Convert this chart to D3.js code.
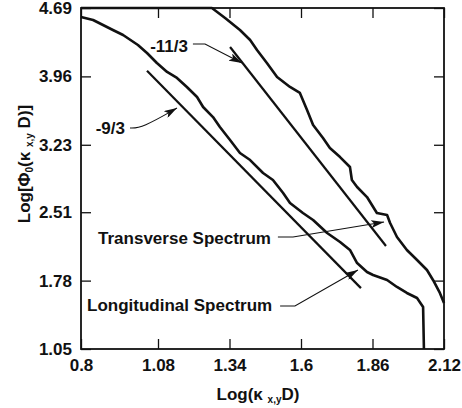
<!DOCTYPE html>
<html>
<head>
<meta charset="utf-8">
<script src="https://cdn.jsdelivr.net/npm/d3@7"></script>
<style>
  body { margin: 0; background: #fff; }
  text { font-family: "Liberation Sans", Arial, Helvetica, sans-serif; font-weight: bold; fill: #111; }
</style>
</head>
<body>
<div id="chart"></div>
<script>
// tick values
var xTicks = [0.8, 1.08, 1.34, 1.6, 1.86, 2.12];
var yTicks = [1.05, 1.78, 2.51, 3.23, 3.96, 4.69];

// transverse spectrum [log k, log phi]
var transverse = [
  [0.8, 4.69], [1.276, 4.69], [1.324, 4.583], [1.378, 4.455], [1.415, 4.348],
  [1.440, 4.242], [1.476, 4.103], [1.513, 3.953], [1.560, 3.847], [1.596, 3.783],
  [1.622, 3.601], [1.644, 3.441], [1.680, 3.302], [1.705, 3.195], [1.742, 3.099],
  [1.778, 2.993], [1.785, 2.854], [1.804, 2.779], [1.840, 2.672], [1.876, 2.502],
  [1.913, 2.480], [1.924, 2.395], [1.949, 2.245], [1.985, 2.107], [2.022, 2.000],
  [2.058, 1.893], [2.080, 1.787], [2.105, 1.648], [2.12, 1.541]
];

// longitudinal spectrum [log k, log phi]
var longitudinal = [
  [0.8, 4.594], [0.844, 4.562], [0.916, 4.455], [0.953, 4.402], [1.007, 4.295],
  [1.040, 4.210], [1.076, 4.103], [1.113, 4.007], [1.149, 3.943], [1.185, 3.847],
  [1.222, 3.740], [1.244, 3.633], [1.280, 3.526], [1.305, 3.420], [1.342, 3.281],
  [1.378, 3.142], [1.415, 3.067], [1.462, 2.929], [1.498, 2.854], [1.535, 2.715],
  [1.560, 2.608], [1.607, 2.502], [1.644, 2.427], [1.695, 2.288], [1.742, 2.192],
  [1.778, 2.107], [1.804, 1.968], [1.840, 1.872], [1.862, 1.840], [1.913, 1.787],
  [1.949, 1.712], [1.985, 1.648], [2.022, 1.594], [2.044, 1.498], [2.047, 1.05]
];

// reference slopes, end points
var slope9 = [[1.04, 4.02], [1.818, 1.70]];
var slope11 = [[1.342, 4.274], [1.909, 2.149]];

// labels with their leader lines (data units)
var labels = [
  { text: "-9/3", anchor: "end", at: [0.960, 3.409], leader: [[0.978, 3.409], [1.022, 3.409], [1.149, 3.622]], curved: true },
  { text: "-11/3", anchor: "end", at: [1.189, 4.290], leader: [[1.207, 4.306], [1.251, 4.306], [1.385, 4.103]] },
  { text: "Transverse Spectrum", anchor: "start", at: [0.862, 2.235], leader: [[1.516, 2.245], [1.571, 2.245], [1.902, 2.406]] },
  { text: "Longitudinal Spectrum", anchor: "start", at: [0.822, 1.520], leader: [[1.524, 1.509], [1.578, 1.509], [1.807, 1.893]] }
];

var svgWidth = 462;
var svgHeight = 408;
var margin = { top: 8, right: 18, bottom: 59, left: 81 };
var width = svgWidth - margin.left - margin.right;
var height = svgHeight - margin.top - margin.bottom;

var svg = d3.select("#chart")
  .append("svg")
  .attr("width", svgWidth)
  .attr("height", svgHeight);

svg.append("defs").append("marker")
  .attr("id", "arrow")
  .attr("markerUnits", "userSpaceOnUse")
  .attr("markerWidth", 14)
  .attr("markerHeight", 8)
  .attr("refX", 13)
  .attr("refY", 4)
  .attr("orient", "auto")
  .append("path")
  .attr("d", "M0,0 L13,4 L0,8 L3,4 Z")
  .attr("fill", "#111");

var chartGroup = svg.append("g")
  .attr("transform", `translate(${margin.left}, ${margin.top})`);

var xScale = d3.scaleLinear().domain([0.8, 2.12]).range([0, width]);
var yScale = d3.scaleLinear().domain([1.05, 4.69]).range([height, 0]);

// axes, ticks pointing inward on all four sides
var bottomAxis = d3.axisBottom(xScale).tickValues(xTicks).tickFormat(d3.format("")).tickSizeInner(-10).tickSizeOuter(0).tickPadding(10);
var topAxis = d3.axisTop(xScale).tickValues(xTicks).tickFormat("").tickSizeInner(-10).tickSizeOuter(0);
var leftAxis = d3.axisLeft(yScale).tickValues(yTicks).tickFormat(d3.format(".2f")).tickSizeInner(-10).tickSizeOuter(0).tickPadding(9);
var rightAxis = d3.axisRight(yScale).tickValues(yTicks).tickFormat("").tickSizeInner(-10).tickSizeOuter(0);

function styleAxis(g) {
  g.select(".domain").remove();
  g.selectAll(".tick line").attr("stroke", "#111").attr("stroke-width", 1.3);
  g.selectAll(".tick text").attr("font-size", "17px").attr("fill", "#111")
    .attr("font-family", "'Liberation Sans', Arial, sans-serif").attr("font-weight", "bold");
}

chartGroup.append("g").attr("transform", `translate(0, ${height})`).call(bottomAxis).call(styleAxis);
chartGroup.append("g").call(topAxis).call(styleAxis);
chartGroup.append("g").call(leftAxis).call(styleAxis);
chartGroup.append("g").attr("transform", `translate(${width}, 0)`).call(rightAxis).call(styleAxis);

chartGroup.append("rect")
  .attr("width", width)
  .attr("height", height)
  .attr("fill", "none")
  .attr("stroke", "#111")
  .attr("stroke-width", 1.8);

var line = d3.line()
  .x(d => xScale(d[0]))
  .y(d => yScale(d[1]));

// spectra
[transverse, longitudinal].forEach(function(series) {
  chartGroup.append("path")
    .datum(series)
    .attr("d", line)
    .attr("fill", "none")
    .attr("stroke", "#111")
    .attr("stroke-width", 2.6)
    .attr("stroke-linejoin", "round");
});

// slope lines
[slope9, slope11].forEach(function(seg) {
  chartGroup.append("path")
    .datum(seg)
    .attr("d", line)
    .attr("fill", "none")
    .attr("stroke", "#111")
    .attr("stroke-width", 2.2);
});

// labels and leaders
labels.forEach(function(l) {
  chartGroup.append("text")
    .attr("x", xScale(l.at[0]))
    .attr("y", yScale(l.at[1]))
    .attr("dy", "0.36em")
    .attr("text-anchor", l.anchor)
    .attr("font-size", "17px")
    .text(l.text);

  chartGroup.append("path")
    .datum(l.leader)
    .attr("d", l.curved ? line.curve(d3.curveBasis) : line.curve(d3.curveLinear))
    .attr("fill", "none")
    .attr("stroke", "#111")
    .attr("stroke-width", 1.1)
    .attr("marker-end", "url(#arrow)");
  line.curve(d3.curveLinear);
});

// axis titles
var xTitle = svg.append("text")
  .attr("x", 258)
  .attr("y", 400)
  .attr("text-anchor", "middle")
  .attr("font-size", "17px");
xTitle.append("tspan").text("Log(\u03ba ");
xTitle.append("tspan").attr("font-size", "10px").attr("dy", 3).text("x,y");
xTitle.append("tspan").attr("dy", -3).text("D)");

var yTitle = svg.append("text")
  .attr("transform", "translate(30, 164) rotate(-90)")
  .attr("text-anchor", "middle")
  .attr("font-size", "17px");
yTitle.append("tspan").text("Log[\u03a6");
yTitle.append("tspan").attr("font-size", "10px").attr("dy", 3).text("0");
yTitle.append("tspan").attr("dy", -3).text("(\u03ba ");
yTitle.append("tspan").attr("font-size", "10px").attr("dy", 3).text("x,y");
yTitle.append("tspan").attr("dy", -3).text(" D)]");
</script>
</body>
</html>
